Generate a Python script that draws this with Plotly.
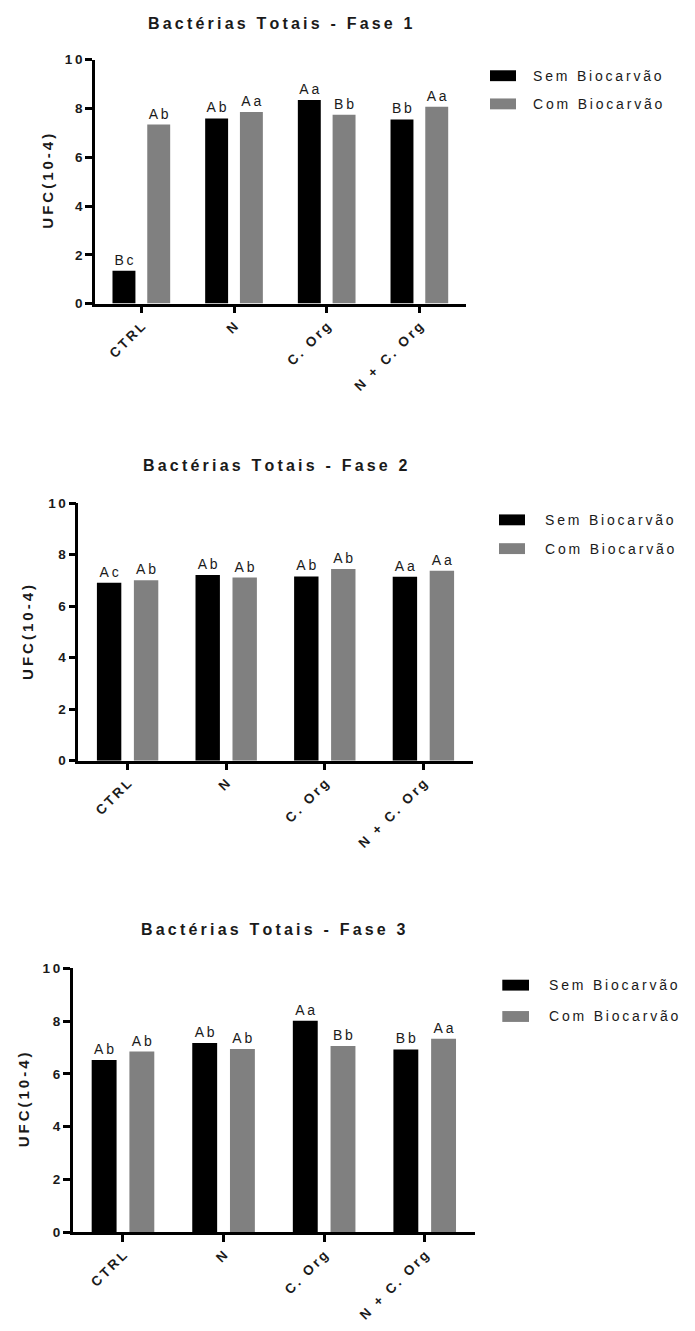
import plotly.graph_objects as go

# Canvas size (px)
W, H = 695, 1331

# ---- data -------------------------------------------------------------
categories = ["CTRL", "N", "C. Org", "N + C. Org"]
series_names = ["Sem Biocarvão", "Com Biocarvão"]
series_colors = ["#000000", "#808080"]

fase1_sem = [1.35, 7.59, 8.35, 7.55]
fase1_com = [7.34, 7.86, 7.74, 8.07]
fase1_sem_letters = ["Bc", "Ab", "Aa", "Bb"]
fase1_com_letters = ["Ab", "Aa", "Bb", "Aa"]

fase2_sem = [6.91, 7.21, 7.15, 7.14]
fase2_com = [7.00, 7.11, 7.44, 7.37]
fase2_sem_letters = ["Ac", "Ab", "Ab", "Aa"]
fase2_com_letters = ["Ab", "Ab", "Ab", "Aa"]

fase3_sem = [6.53, 7.17, 8.01, 6.93]
fase3_com = [6.85, 6.94, 7.06, 7.33]
fase3_sem_letters = ["Ab", "Ab", "Aa", "Bb"]
fase3_com_letters = ["Ab", "Ab", "Bb", "Aa"]

panel_titles = ["Bactérias Totais - Fase 1",
                "Bactérias Totais - Fase 2",
                "Bactérias Totais - Fase 3"]
y_title = "UFC(10-4)"
y_tick_values = [0, 2, 4, 6, 8, 10]

panels = [
    (fase1_sem, fase1_com, fase1_sem_letters, fase1_com_letters),
    (fase2_sem, fase2_com, fase2_sem_letters, fase2_com_letters),
    (fase3_sem, fase3_com, fase3_sem_letters, fase3_com_letters),
]

# ---- layout geometry (pixels) ----------------------------------------
# plot boxes: left, right, top, bottom
boxes = [(95, 465.7, 53.3, 300),
         (78.3, 472.7, 501.7, 762.3),
         (72.7, 475, 972.3, 1239.3)]
title_y = [17, 464, 933]
ytitle_x = [48, 28, 23]
# legend: swatch x0, swatch x1, text x, row 1 centre, row 2 centre
legends = [(490, 516, 530.7, 69.5, 98),
           (499, 525, 543.3, 518.7, 547.8),
           (502.3, 529, 546.7, 989.3, 1021)]

FONT = "Liberation Sans, Arial, sans-serif"
TEXT_COLOR = "#1a1a1a"


def px_x(x):
    return x / W


def px_y(y):
    return 1 - y / H


def spaced(s):
    """Open up letter spacing with thin spaces."""
    return "\u2009".join(s)


fig = go.Figure()
annotations = []
shapes = []

for i, (sem, com, sem_lab, com_lab) in enumerate(panels):
    n = "" if i == 0 else str(i + 1)
    xa, ya = "x" + n, "y" + n
    for vals, labs, name, color in ((sem, sem_lab, series_names[0], series_colors[0]),
                                    (com, com_lab, series_names[1], series_colors[1])):
        fig.add_trace(go.Bar(
            x=categories, y=vals, name=name,
            marker=dict(color=color, line=dict(width=0)),
            text=[spaced(t) for t in labs],
            textposition="outside",
            constraintext="none",
            cliponaxis=False,
            textfont=dict(family=FONT, size=14, color=TEXT_COLOR),
            xaxis=xa, yaxis=ya, showlegend=False,
            hoverinfo="x+y+name",
        ))

    l, r, t, b = boxes[i]
    axis_common = dict(showline=True, linecolor="black", linewidth=2.5,
                       ticks="outside", ticklen=7, tickwidth=2.5, tickcolor="black",
                       showgrid=False, zeroline=False,
                       tickfont=dict(family=FONT, size=13.5, color=TEXT_COLOR, weight="bold"))
    fig.layout["xaxis" + n] = dict(
        axis_common, domain=[px_x(l), px_x(r)], anchor=ya,
        type="category", range=[-0.5, 3.5],
        tickvals=categories, ticktext=[spaced(c) for c in categories],
        tickangle=-45,
    )
    fig.layout["yaxis" + n] = dict(
        axis_common, domain=[px_y(b), px_y(t)], anchor=xa,
        range=[0, 10], tickvals=y_tick_values,
        ticktext=[spaced(str(v)) for v in y_tick_values],
    )

    # panel title
    annotations.append(dict(
        text=spaced(panel_titles[i]), xref="paper", yref="paper",
        x=px_x((l + r) / 2), y=px_y(title_y[i]), xanchor="center", yanchor="middle",
        showarrow=False, font=dict(family=FONT, size=16, color=TEXT_COLOR, weight="bold"),
    ))
    # y-axis title
    annotations.append(dict(
        text=spaced(y_title), xref="paper", yref="paper",
        x=px_x(ytitle_x[i]), y=px_y((t + b) / 2), xanchor="center", yanchor="middle",
        textangle=-90, showarrow=False,
        font=dict(family=FONT, size=15, color=TEXT_COLOR, weight="bold"),
    ))
    # legend
    sx0, sx1, tx, c1, c2 = legends[i]
    for cy, name, color in ((c1, series_names[0], series_colors[0]),
                            (c2, series_names[1], series_colors[1])):
        shapes.append(dict(type="rect", xref="paper", yref="paper",
                           x0=px_x(sx0), x1=px_x(sx1),
                           y0=px_y(cy + 5.5), y1=px_y(cy - 5.5),
                           fillcolor=color, line=dict(width=0)))
        annotations.append(dict(
            text=spaced(name), xref="paper", yref="paper",
            x=px_x(tx), y=px_y(cy), xanchor="left", yanchor="middle",
            showarrow=False, font=dict(family=FONT, size=14, color=TEXT_COLOR),
        ))

fig.update_layout(
    width=W, height=H,
    margin=dict(l=0, r=0, t=0, b=0),
    paper_bgcolor="white", plot_bgcolor="white",
    barmode="group", bargap=0.25, bargroupgap=0.34,
    annotations=annotations, shapes=shapes,
    showlegend=False,
    font=dict(family=FONT),
)

fig.write_html("out.html")
